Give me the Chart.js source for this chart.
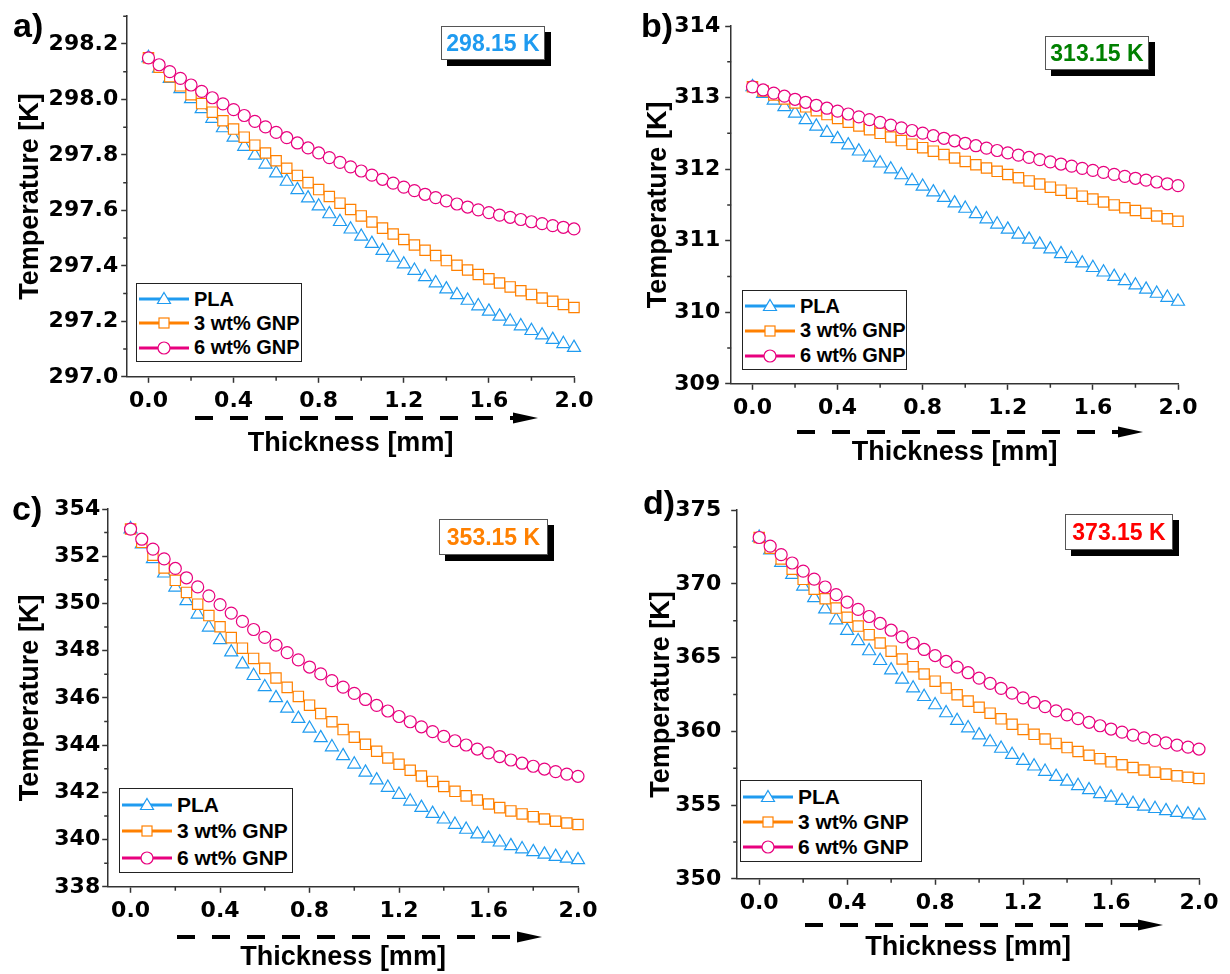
<!DOCTYPE html>
<html>
<head>
<meta charset="utf-8">
<script src="https://cdn.jsdelivr.net/npm/chart.js@4.4.0/dist/chart.umd.min.js"></script>
<style>
  body { margin: 0; background: #fff; }
  #page { position: relative; width: 1230px; height: 974px; overflow: hidden; font-family: 'Liberation Sans', Arial, sans-serif; font-weight: bold; }
  canvas { position: absolute; }
  .letter { position: absolute; font-size: 34px; line-height: 34px; color: #000; }
  .tag { position: absolute; box-sizing: border-box; border: 1px solid #555; background: #fff; box-shadow: 6px 6px 0 #000; font-size: 23px; text-align: center; }
  .legend { position: absolute; box-sizing: border-box; border: 1px solid #222; background: #fff; padding: 3px 0 0 2px; color: #000; }
  .legend div { display: flex; align-items: center; white-space: nowrap; }
  .legend svg { margin-right: 5px; }
</style>
</head>
<body>
<div id="page"></div>
<script>
// ---- data ----
const thickness = [0.00, 0.05, 0.10, 0.15, 0.20, 0.25, 0.30, 0.35, 0.40, 0.45, 0.50,
  0.55, 0.60, 0.65, 0.70, 0.75, 0.80, 0.85, 0.90, 0.95, 1.00,
  1.05, 1.10, 1.15, 1.20, 1.25, 1.30, 1.35, 1.40, 1.45, 1.50,
  1.55, 1.60, 1.65, 1.70, 1.75, 1.80, 1.85, 1.90, 1.95, 2.00];
const xTicks = [0.0, 0.4, 0.8, 1.2, 1.6, 2.0];
const xMinor = [0.2, 0.6, 1.0, 1.4, 1.8];
const seriesNames = ['PLA', '3 wt% GNP', '6 wt% GNP'];

// a) 298.15 K
const plaA = [298.150, 298.112, 298.075, 298.038, 298.002, 297.966, 297.931, 297.897, 297.863, 297.830, 297.798,
  297.766, 297.734, 297.704, 297.674, 297.644, 297.615, 297.587, 297.559, 297.532, 297.506,
  297.480, 297.455, 297.430, 297.406, 297.383, 297.360, 297.338, 297.316, 297.295, 297.275,
  297.255, 297.236, 297.218, 297.200, 297.183, 297.166, 297.150, 297.134, 297.119, 297.105];
const gnp3A = [298.150, 298.116, 298.082, 298.049, 298.017, 297.985, 297.954, 297.923, 297.893, 297.864, 297.835,
  297.807, 297.779, 297.752, 297.726, 297.700, 297.675, 297.650, 297.626, 297.603, 297.580,
  297.558, 297.536, 297.515, 297.495, 297.475, 297.456, 297.437, 297.419, 297.402, 297.385,
  297.369, 297.353, 297.338, 297.324, 297.310, 297.297, 297.284, 297.272, 297.261, 297.250];
const gnp6A = [298.150, 298.125, 298.100, 298.076, 298.052, 298.029, 298.006, 297.984, 297.963, 297.942, 297.921,
  297.901, 297.881, 297.862, 297.843, 297.825, 297.807, 297.790, 297.773, 297.757, 297.742,
  297.727, 297.712, 297.698, 297.684, 297.671, 297.658, 297.646, 297.634, 297.623, 297.612,
  297.602, 297.592, 297.583, 297.575, 297.567, 297.559, 297.552, 297.545, 297.539, 297.533];
const yTicksA = [297.0, 297.2, 297.4, 297.6, 297.8, 298.0, 298.2];
const yMinorA = [297.1, 297.3, 297.5, 297.7, 297.9, 298.1, 298.3];

// b) 313.15 K
const plaB = [313.150, 313.055, 312.962, 312.869, 312.778, 312.687, 312.598, 312.509, 312.422, 312.335, 312.250,
  312.165, 312.082, 311.999, 311.918, 311.837, 311.758, 311.679, 311.602, 311.525, 311.450,
  311.375, 311.302, 311.229, 311.158, 311.087, 311.018, 310.949, 310.882, 310.815, 310.750,
  310.685, 310.622, 310.559, 310.498, 310.437, 310.378, 310.319, 310.262, 310.205, 310.150];
const gnp3B = [313.150, 313.093, 313.037, 312.981, 312.925, 312.870, 312.816, 312.762, 312.709, 312.656, 312.604,
  312.552, 312.500, 312.449, 312.399, 312.349, 312.300, 312.251, 312.203, 312.155, 312.108,
  312.061, 312.015, 311.969, 311.924, 311.879, 311.835, 311.791, 311.748, 311.706, 311.664,
  311.622, 311.581, 311.540, 311.500, 311.460, 311.421, 311.383, 311.345, 311.307, 311.270];
const gnp6B = [313.150, 313.106, 313.062, 313.019, 312.976, 312.934, 312.892, 312.851, 312.810, 312.770, 312.731,
  312.692, 312.653, 312.615, 312.577, 312.540, 312.503, 312.467, 312.431, 312.396, 312.361,
  312.327, 312.293, 312.260, 312.227, 312.195, 312.163, 312.132, 312.101, 312.071, 312.041,
  312.011, 311.982, 311.954, 311.926, 311.899, 311.872, 311.846, 311.820, 311.795, 311.770];
const yTicksB = [309, 310, 311, 312, 313, 314];
const yMinorB = [309.5, 310.5, 311.5, 312.5, 313.5];

// c) 353.15 K
const plaC = [353.150, 352.512, 351.888, 351.279, 350.684, 350.105, 349.540, 348.990, 348.455, 347.935, 347.430,
  346.939, 346.463, 346.002, 345.555, 345.124, 344.707, 344.305, 343.918, 343.546, 343.188,
  342.845, 342.517, 342.204, 341.906, 341.622, 341.353, 341.099, 340.860, 340.636, 340.426,
  340.231, 340.051, 339.886, 339.735, 339.599, 339.478, 339.372, 339.280, 339.204, 339.142];
const gnp3C = [353.150, 352.588, 352.039, 351.503, 350.979, 350.468, 349.970, 349.485, 349.012, 348.553, 348.106,
  347.672, 347.250, 346.842, 346.446, 346.063, 345.692, 345.335, 344.990, 344.658, 344.339,
  344.033, 343.739, 343.458, 343.190, 342.935, 342.693, 342.463, 342.246, 342.042, 341.851,
  341.672, 341.506, 341.353, 341.213, 341.086, 340.971, 340.869, 340.780, 340.704, 340.640];
const gnp6C = [353.150, 352.720, 352.299, 351.886, 351.482, 351.087, 350.700, 350.322, 349.953, 349.592, 349.240,
  348.896, 348.561, 348.235, 347.917, 347.608, 347.307, 347.015, 346.732, 346.457, 346.191,
  345.934, 345.685, 345.445, 345.213, 344.990, 344.776, 344.570, 344.373, 344.185, 344.005,
  343.834, 343.671, 343.517, 343.371, 343.234, 343.106, 342.987, 342.876, 342.774, 342.680];
const yTicksC = [338, 340, 342, 344, 346, 348, 350, 352, 354];
const yMinorC = [339, 341, 343, 345, 347, 349, 351, 353];

// d) 373.15 K
const plaD = [373.150, 372.290, 371.451, 370.631, 369.831, 369.051, 368.291, 367.551, 366.831, 366.131, 365.451,
  364.790, 364.150, 363.529, 362.928, 362.347, 361.787, 361.245, 360.724, 360.223, 359.742,
  359.280, 358.839, 358.417, 358.016, 357.634, 357.273, 356.931, 356.609, 356.307, 356.025,
  355.762, 355.520, 355.297, 355.095, 354.912, 354.750, 354.607, 354.484, 354.381, 354.298];
const gnp3D = [373.150, 372.416, 371.698, 370.997, 370.312, 369.645, 368.994, 368.360, 367.742, 367.141, 366.557,
  365.990, 365.439, 364.905, 364.387, 363.887, 363.403, 362.936, 362.485, 362.051, 361.634,
  361.234, 360.850, 360.483, 360.133, 359.799, 359.482, 359.182, 358.899, 358.632, 358.382,
  358.149, 357.932, 357.732, 357.549, 357.382, 357.232, 357.099, 356.983, 356.883, 356.800];
const gnp6D = [373.150, 372.561, 371.984, 371.418, 370.864, 370.322, 369.792, 369.274, 368.768, 368.273, 367.790,
  367.319, 366.860, 366.413, 365.977, 365.554, 365.142, 364.742, 364.353, 363.977, 363.612,
  363.259, 362.918, 362.589, 362.272, 361.966, 361.672, 361.390, 361.120, 360.862, 360.615,
  360.381, 360.158, 359.947, 359.747, 359.560, 359.384, 359.221, 359.069, 358.929, 358.800];
const yTicksD = [350, 355, 360, 365, 370, 375];
const yMinorD = [352.5, 357.5, 362.5, 367.5, 372.5];

// ---- look ----
const marks = [
  { color: '#1f9bf0', style: 'triangle', radius: 7.5 },
  { color: '#ff8000', style: 'rect', radius: 7.3 },
  { color: '#e8007e', style: 'circle', radius: 6 },
];
const axisColor = '#333';
const FONT = "'Liberation Sans', Arial, sans-serif";
const TICK_FONT = { family: "'DejaVu Sans', sans-serif", size: 22, weight: 'bold' };
const TITLE_FONT = { family: FONT, size: 27, weight: 'bold' };

const panels = [
  { id: 'a', tag: '298.15 K', tagColor: '#1f9bf0', series: [plaA, gnp3A, gnp6A],
    yMin: 297.0, yMax: 298.3, yTicks: yTicksA, yMinor: yMinorA, dec: 1,
    L: 127, R: 574, T: 15, B: 377, titleX: 30, titleY: 444, ct: 0, cr: 600, yPad: 3,
    letter: [13, 8], tagBox: [441, 26, 104, 34],
    legend: [136, 283, 166, 79, 20], arrow: [195, 538, 418] },
  { id: 'b', tag: '313.15 K', tagColor: '#008000', series: [plaB, gnp3B, gnp6B],
    yMin: 309, yMax: 314, yTicks: yTicksB, yMinor: yMinorB, dec: 0,
    L: 731, R: 1178, T: 26, B: 384, titleX: 658, titleY: 453, ct: 0, cr: 1228, yPad: 5,
    letter: [641, 8], tagBox: [1045, 36, 104, 34],
    legend: [742, 290, 165, 80, 20], arrow: [797, 1143, 432] },
  { id: 'c', tag: '353.15 K', tagColor: '#ff8000', series: [plaC, gnp3C, gnp6C],
    yMin: 338, yMax: 354, yTicks: yTicksC, yMinor: yMinorC, dec: 0,
    L: 108, R: 578, T: 509, B: 887, titleX: 30, titleY: 958, ct: 487, cr: 605, yPad: 2,
    letter: [12, 491], tagBox: [439, 519, 109, 36],
    legend: [119, 788, 174, 85, 21], arrow: [177, 542, 937] },
  { id: 'd', tag: '373.15 K', tagColor: '#ff0000', series: [plaD, gnp3D, gnp6D],
    yMin: 350, yMax: 375, yTicks: yTicksD, yMinor: yMinorD, dec: 0,
    L: 737, R: 1199, T: 504, B: 879, titleX: 661, titleY: 948, ct: 487, cr: 1228, yPad: 10,
    letter: [643, 485], tagBox: [1065, 514, 108, 36],
    legend: [740, 780, 182, 82, 21], arrow: [805, 1163, 925] },
];

// short minor ticks between the labelled ones
const minorTicks = {
  id: 'minorTicks',
  afterDraw(chart, args, opts) {
    const { ctx, scales: { x, y } } = chart;
    ctx.save();
    ctx.strokeStyle = axisColor;
    ctx.lineWidth = 1.5;
    ctx.beginPath();
    xMinor.forEach(v => {
      const px = x.getPixelForValue(v);
      ctx.moveTo(px, y.bottom); ctx.lineTo(px, y.bottom + 4);
    });
    opts.yMinor.forEach(v => {
      const py = y.getPixelForValue(v);
      ctx.moveTo(x.left, py); ctx.lineTo(x.left - 4, py);
    });
    ctx.stroke();
    ctx.restore();
  }
};

const page = document.getElementById('page');
const TITLE_HALF = 27 * 1.2 / 2;

function symbolSvg(m) {
  let shape;
  if (m.style === 'triangle') shape = `<polygon points="25,1.5 31.5,12.5 18.5,12.5" fill="#fff" stroke="${m.color}" stroke-width="1.2"/>`;
  else if (m.style === 'rect') shape = `<rect x="20" y="3" width="10" height="10" fill="#fff" stroke="${m.color}" stroke-width="1.2"/>`;
  else shape = `<circle cx="25" cy="8" r="6" fill="#fff" stroke="${m.color}" stroke-width="1.2"/>`;
  return `<svg width="50" height="16"><line x1="0" y1="8" x2="50" y2="8" stroke="${m.color}" stroke-width="3"/>${shape}</svg>`;
}

panels.forEach(p => {
  const cl = p.titleX - TITLE_HALF;
  const cw = p.cr - cl;
  const ch = p.titleY + TITLE_HALF - p.ct;
  const canvas = document.createElement('canvas');
  canvas.width = cw; canvas.height = ch;
  canvas.style.left = cl + 'px'; canvas.style.top = p.ct + 'px';
  page.appendChild(canvas);

  const yAxisW = p.L - cl;
  const xAxisH = p.titleY + TITLE_HALF - p.B;

  new Chart(canvas, {
    type: 'line',
    data: {
      datasets: p.series.map((vals, i) => ({
        label: seriesNames[i],
        data: thickness.map((t, k) => ({ x: t, y: vals[k] })),
        showLine: false,
        borderColor: marks[i].color,
        pointStyle: marks[i].style,
        pointRadius: marks[i].radius,
        pointBorderColor: marks[i].color,
        pointBackgroundColor: '#fff',
        pointBorderWidth: 1.2,
        clip: false,
        order: 2 - i,
      })),
    },
    options: {
      responsive: false,
      animation: false,
      events: [],
      layout: { padding: { top: p.T - p.ct, right: p.cr - p.R, left: 0, bottom: 0 } },
      plugins: { legend: { display: false }, tooltip: { enabled: false }, minorTicks: { yMinor: p.yMinor } },
      scales: {
        x: {
          type: 'linear', min: -0.1, max: 2.0,
          afterBuildTicks: s => { s.ticks = xTicks.map(v => ({ value: v })); },
          afterFit: s => { s.height = xAxisH; },
          ticks: { callback: v => v.toFixed(1), font: TICK_FONT, color: '#000', padding: 5, maxRotation: 0, autoSkip: false },
          grid: { drawOnChartArea: false, tickLength: 6, tickWidth: 1.5, tickColor: axisColor },
          border: { color: axisColor, width: 1.5 },
          title: { display: true, text: 'Thickness [mm]', font: TITLE_FONT, color: '#000', padding: 0 },
        },
        y: {
          type: 'linear', min: p.yMin, max: p.yMax,
          afterBuildTicks: s => { s.ticks = p.yTicks.map(v => ({ value: v })); },
          afterFit: s => { s.width = yAxisW; },
          ticks: { callback: v => v.toFixed(p.dec), font: TICK_FONT, color: '#000', padding: p.yPad, autoSkip: false },
          grid: { drawOnChartArea: false, tickLength: 6, tickWidth: 1.5, tickColor: axisColor },
          border: { color: axisColor, width: 1.5 },
          title: { display: true, text: 'Temperature [K]', font: TITLE_FONT, color: '#000', padding: 0 },
        },
      },
    },
    plugins: [minorTicks],
  });

  // panel letter
  const letter = document.createElement('div');
  letter.className = 'letter';
  letter.textContent = p.id + ')';
  letter.style.left = p.letter[0] + 'px'; letter.style.top = p.letter[1] + 'px';
  page.appendChild(letter);

  // temperature tag
  const tag = document.createElement('div');
  tag.className = 'tag';
  tag.textContent = p.tag;
  tag.style.color = p.tagColor;
  tag.style.left = p.tagBox[0] + 'px'; tag.style.top = p.tagBox[1] + 'px';
  tag.style.width = p.tagBox[2] + 'px'; tag.style.height = p.tagBox[3] + 'px';
  tag.style.lineHeight = (p.tagBox[3] - 2) + 'px';
  page.appendChild(tag);

  // legend
  const lg = document.createElement('div');
  lg.className = 'legend';
  lg.style.left = p.legend[0] + 'px'; lg.style.top = p.legend[1] + 'px';
  lg.style.width = p.legend[2] + 'px'; lg.style.height = p.legend[3] + 'px';
  lg.style.fontSize = p.legend[4] + 'px';
  const rowH = (p.legend[3] - 6) / 3;
  lg.innerHTML = seriesNames.map((n, i) =>
    `<div style="height:${rowH}px">${symbolSvg(marks[i])}<span>${n}</span></div>`).join('');
  page.appendChild(lg);
});

// dashed arrows under the x axes
const ns = 'http://www.w3.org/2000/svg';
const svg = document.createElementNS(ns, 'svg');
svg.setAttribute('width', 1230); svg.setAttribute('height', 974);
svg.style.position = 'absolute'; svg.style.left = '0'; svg.style.top = '0';
panels.forEach(p => {
  const [x1, tip, y] = p.arrow;
  const line = document.createElementNS(ns, 'line');
  line.setAttribute('x1', x1); line.setAttribute('x2', tip - 24);
  line.setAttribute('y1', y); line.setAttribute('y2', y);
  line.setAttribute('stroke', '#000'); line.setAttribute('stroke-width', 4);
  line.setAttribute('stroke-dasharray', '18 17');
  svg.appendChild(line);
  const head = document.createElementNS(ns, 'polygon');
  head.setAttribute('points', `${tip},${y} ${tip - 25},${y - 5.5} ${tip - 25},${y + 5.5}`);
  head.setAttribute('fill', '#000');
  svg.appendChild(head);
});
page.appendChild(svg);
</script>
</body>
</html>
